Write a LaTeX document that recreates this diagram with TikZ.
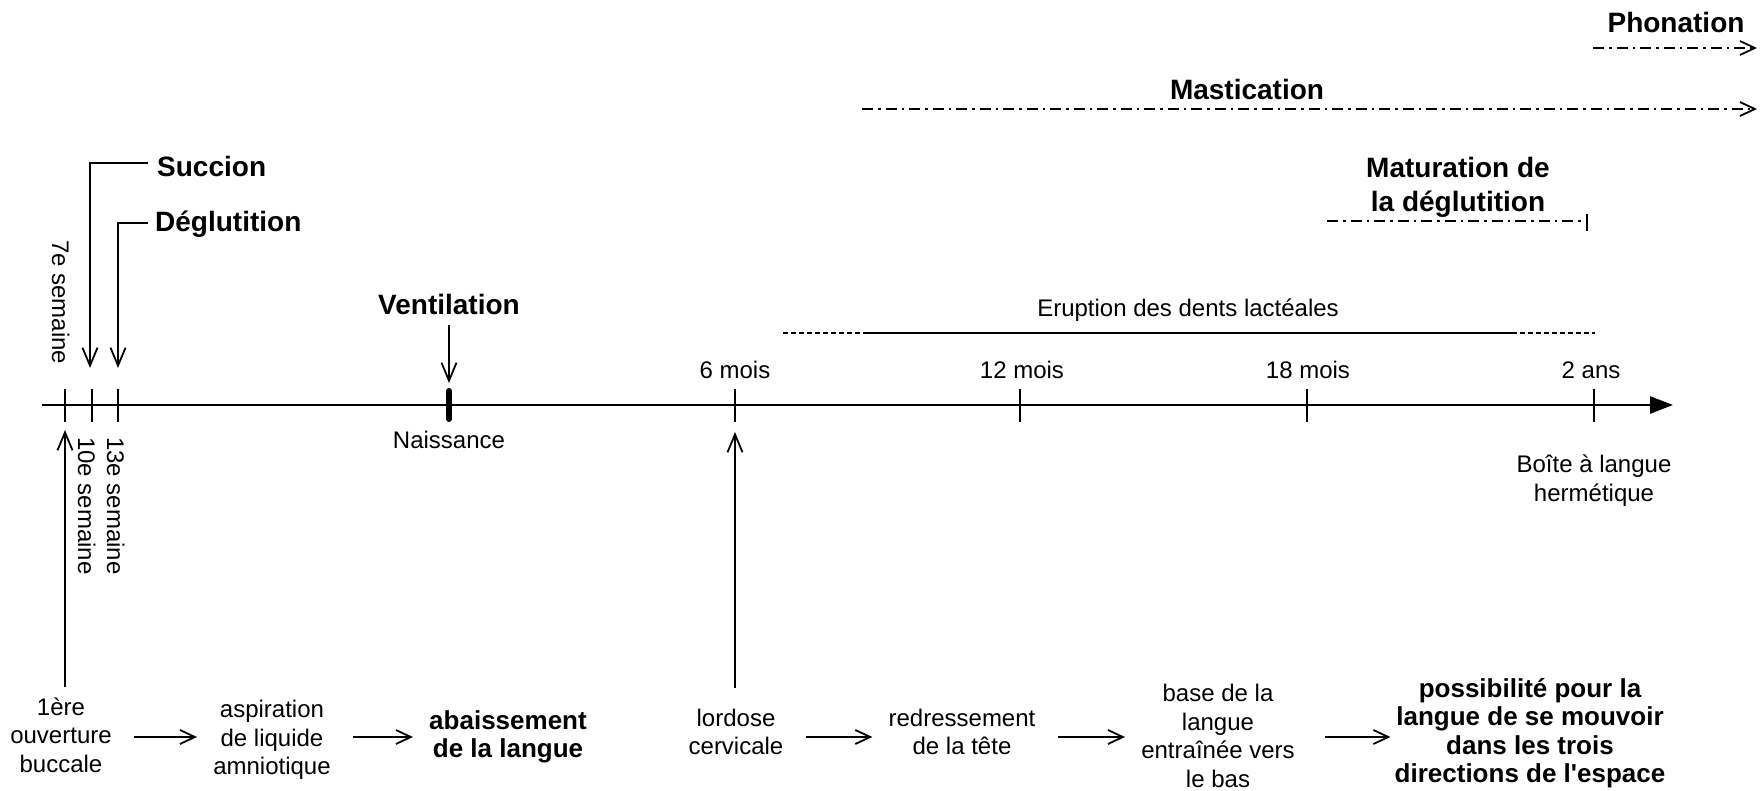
\documentclass[tikz,border=0pt]{standalone}
\usepackage{fontspec}
\setmainfont{Liberation Sans}[Ligatures=TeXOff]
\usetikzlibrary{arrows.meta}
\begin{document}
\begin{tikzpicture}[x=1pt,y=-1pt,
  reg/.style={font=\fontsize{24}{28.5}\selectfont, inner sep=0pt, align=center},
  bld/.style={font=\fontsize{26}{28.5}\selectfont\bfseries, inner sep=0pt, align=center},
  big/.style={font=\fontsize{28}{32}\selectfont\bfseries, inner sep=0pt, align=center},
  tickmark/.style={line width=2pt},
  varrow/.style={line width=1.8pt, -{Straight Barb[length=18pt,width=15pt]}},
  harrow/.style={line width=1.8pt, -{Straight Barb[length=15pt,width=14pt]}, shorten <=22pt, shorten >=16pt},
  dashdot/.style={line width=1.8pt, dash pattern=on 11pt off 5pt on 2.5pt off 5pt},
  erupt/.style={line width=2pt}
]
\useasboundingbox (0,0) rectangle (1761,791);

% axis
\coordinate (a0) at (42,405);
\coordinate (a1) at (1673,405);
\draw[line width=2.5pt, -{Triangle[length=23pt,width=17pt]}] (a0) -- (a1);
\foreach \n/\x in {t7/65,t10/92,t13/118,m6/735,m12/1020,m18/1307,a2/1594}{
  \coordinate (\n) at (\x,405);
  \draw[tickmark] ([yshift=16pt]\n) -- ([yshift=-17pt]\n);
}
\coordinate (birth) at (449,405);
\draw[line width=6pt, line cap=round] ([yshift=14pt]birth) -- ([yshift=-14pt]birth);

% axis labels
\node[reg, anchor=base] (l6) at (735,378) {6 mois};
\node[reg, anchor=base] (l12) at (1022,378) {12 mois};
\node[reg, anchor=base] (l18) at (1308,378) {18 mois};
\node[reg, anchor=base] (l2) at (1591,378) {2 ans};
\node[reg, anchor=base] (nais) at (449,448) {Naissance};
\node[reg, align=center, font=\fontsize{24}{29}\selectfont] (boite) at (1594,481) {Boîte à langue\\hermétique};

% rotated week labels
\node[reg, rotate=-90, anchor=base west] (w7) at (52,240) {7e semaine};
\node[reg, rotate=-90, anchor=base west] (w10) at (78,437) {10e semaine};
\node[reg, rotate=-90, anchor=base west] (w13) at (107,437) {13e semaine};

% Succion / Deglutition
\node[big, anchor=base west] (succ) at (157,177) {Succion};
\node[big, anchor=base west] (degl) at (155,232) {Déglutition};
\coordinate (s10) at (90,368);
\coordinate (s13) at (118,368);
\draw[varrow] ([xshift=-9pt,yshift=4pt]succ.west) -| (s10);
\draw[varrow] ([xshift=-7pt,yshift=1.5pt]degl.west) -| (s13);

% Ventilation
\node[big, anchor=base] (vent) at (449,315) {Ventilation};
\coordinate (ventend) at (449,383);
\draw[varrow] ([yshift=-10pt]vent.base) -- (ventend);

% Eruption
\node[reg, anchor=base] (erl) at (1188,317) {Eruption des dents lactéales};
\coordinate (e0) at (783,333);
\coordinate (e1) at (864,333);
\coordinate (e2) at (1512,333);
\coordinate (e3) at (1595,333);
\draw[erupt, dash pattern=on 5pt off 3pt] (e0) -- (e1);
\draw[erupt] (e1) -- (e2);
\draw[erupt, dash pattern=on 5pt off 3pt] (e2) -- (e3);

% top functions
\node[big, anchor=base] (phon) at (1676,33) {Phonation};
\coordinate (p0) at (1593,48);
\coordinate (p1) at (1757,48);
\draw[dashdot, -{Straight Barb[length=15pt,width=14pt]}] (p0) -- (p1);

\node[big, anchor=base] (mast) at (1247,100) {Mastication};
\coordinate (ma0) at (862,109);
\coordinate (ma1) at (1757,109);
\draw[dashdot, -{Straight Barb[length=15pt,width=14pt]}] (ma0) -- (ma1);

\node[big, font=\fontsize{28}{34}\selectfont\bfseries] (matu) at (1458,187) {Maturation de\\la déglutition};
\coordinate (mt0) at (1327,221);
\coordinate (mt1) at (1587,221);
\draw[dashdot] (mt0) -- (mt1);
\draw[line width=1.8pt] ([yshift=7pt]mt1) -- ([yshift=-10pt]mt1);

% bottom chain
\node[reg] (n1) at (61,735) {1ère\\ouverture\\buccale};
\node[reg] (n2) at (272,740) {aspiration\\de liquide\\amniotique};
\node[bld] (n3) at (508,737) {abaissement\\de la langue};
\node[reg] (n4) at (736,732) {lordose\\cervicale};
\node[reg] (n5) at (962,732) {redressement\\de la tête};
\node[reg] (n6) at (1218,736) {base de la\\langue\\entraînée vers\\le bas};
\node[bld] (n7) at (1530,733) {possibilité pour la\\langue de se mouvoir\\dans les trois\\directions de l'espace};

\coordinate (row) at (0,737);
\draw[harrow] (n1.east |- row) -- (n2.west |- row);
\draw[harrow] (n2.east |- row) -- (n3.west |- row);
\draw[harrow] (n4.east |- row) -- (n5.west |- row);
\draw[harrow] (n5.east |- row) -- (n6.west |- row);
\draw[harrow, shorten <=30pt, shorten >=4pt] (n6.east |- row) -- (n7.west |- row);

% vertical up arrows
\coordinate (u7) at (65,430);
\coordinate (u6) at (735,432);
\draw[varrow, shorten <=10pt] (n1.north -| u7) -- (u7);
\draw[varrow, shorten <=21pt] (n4.north -| u6) -- (u6);
\end{tikzpicture}
\end{document}
